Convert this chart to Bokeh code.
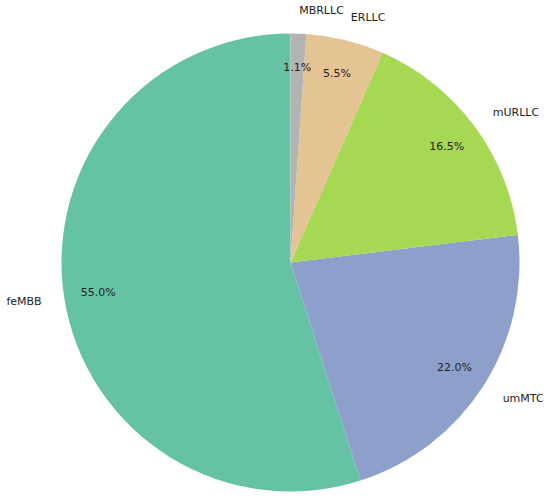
import math
from bokeh.plotting import figure
from bokeh.models import Range1d, ColumnDataSource
from bokeh.core.properties import value
from bokeh.embed import file_html
from bokeh.resources import INLINE

labels = ["feMBB", "umMTC", "mURLLC", "ERLLC", "MBRLLC"]
shares = [55.0, 22.0, 16.5, 5.5, 1.1]
colors = ["#66c2a5", "#8da0cb", "#a6d854", "#e5c494", "#b3b3b3"]

W, H = 550, 499
p = figure(width=W, height=H, output_backend="svg", toolbar_location=None,
           x_range=Range1d(0, W), y_range=Range1d(-H, 0),
           min_border=0)
p.axis.visible = False
p.grid.visible = False
p.outline_line_color = None
p.background_fill_color = "white"

cx, cy, r = 290, -262, 229
total = sum(shares)
starts, ends = [], []
a = math.pi / 2
for s in shares:
    starts.append(a)
    a += s / total * 2 * math.pi
    ends.append(a)

src = ColumnDataSource(dict(start=starts, end=ends, color=colors))
p.wedge(x=cx, y=cy, radius=r, start_angle="start", end_angle="end",
        fill_color="color", line_color=None, source=src)

mids = [(s + e) / 2 for s, e in zip(starts, ends)]
lx = [cx + 1.1 * r * math.cos(m) for m in mids]
ly = [cy + 1.1 * r * math.sin(m) for m in mids]
align = ["left" if math.cos(m) > 0 else "right" for m in mids]
px = [cx + 0.85 * r * math.cos(m) for m in mids]
py = [cy + 0.85 * r * math.sin(m) for m in mids]
pct = ["%.1f%%" % s for s in shares]

lsrc = ColumnDataSource(dict(x=lx, y=ly, t=labels, a=align))
p.text(x="x", y="y", text="t", text_align="a", text_baseline="middle",
       text_font=value("DejaVu Sans"), text_font_size="11px",
       text_color="#222222", source=lsrc)
psrc = ColumnDataSource(dict(x=px, y=py, t=pct))
p.text(x="x", y="y", text="t", text_align="center", text_baseline="middle",
       text_font=value("DejaVu Sans"), text_font_size="11px",
       text_color="#222222", source=psrc)

open("out.html", "w").write(file_html(p, INLINE))
